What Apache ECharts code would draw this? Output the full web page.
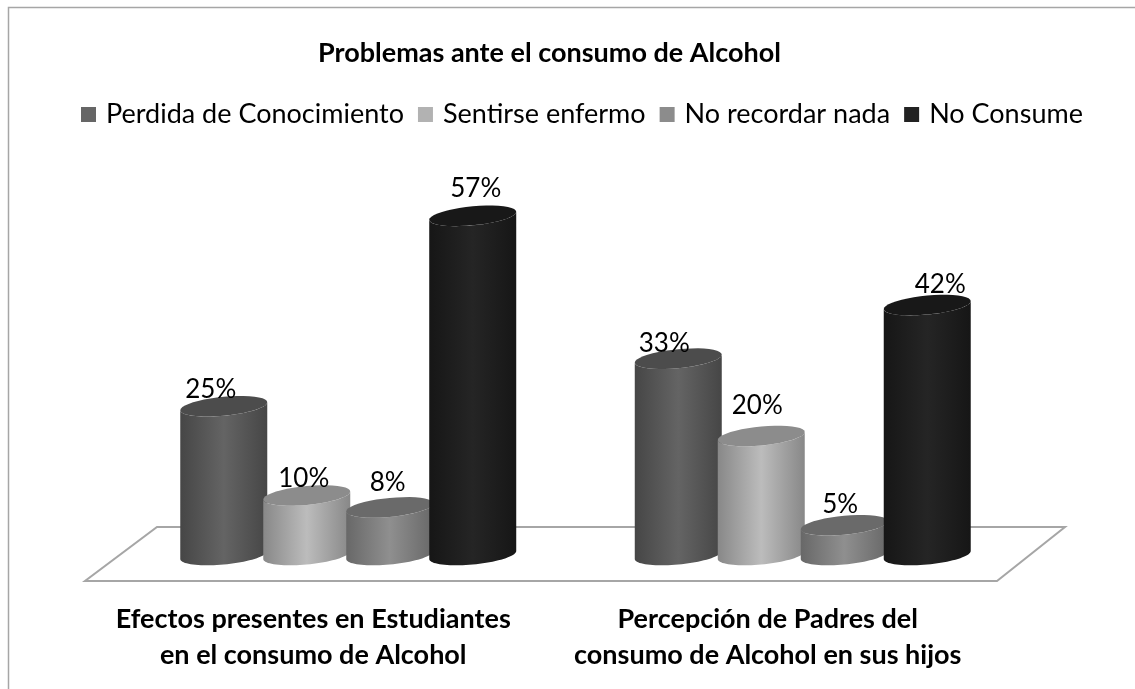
<!DOCTYPE html>
<html>
<head>
<meta charset="utf-8">
<style>
html, body { margin: 0; padding: 0; background: #fff; }
#chart { width: 1135px; height: 689px; }
</style>
<script src="https://cdn.jsdelivr.net/npm/echarts@6/dist/echarts.min.js"></script>
</head>
<body>
<div id="chart"></div>
<script>
const categories = ['Efectos presentes en Estudiantes\nen el consumo de Alcohol', 'Percepción de Padres del\nconsumo de Alcohol en sus hijos'];
const seriesNames = ['Perdida de Conocimiento', 'Sentirse enfermo', 'No recordar nada', 'No Consume'];
const perdida = [25, 33];
const enfermo = [10, 20];
const recordar = [8, 5];
const noConsume = [57, 42];
const seriesValues = [perdida, enfermo, recordar, noConsume];

const fontName = 'Lato';

// edge, middle, top cap, legend colour
const shades = [
    ['#464646', '#646464', '#4c4c4c', '#666666'],
    ['#888888', '#bcbcbc', '#8c8c8c', '#b2b2b2'],
    ['#686868', '#8f8f8f', '#6a6a6a', '#8c8c8c'],
    ['#161616', '#252525', '#181818', '#222222']
];

// the data labels in the picture sit off centre, [dx, dy] per series and category
const labelNudge = [
    [[-13, -17], [-14, -15]],
    [[-3, -17], [-4, -30]],
    [[-2, -25], [-4, -21]],
    [[3, -27], [13, -20]]
];

// points along the sheared ellipse that a cylinder end makes
function arc(cx, cy, a, b, k, from, to) {
    let pts = [];
    for (let i = 0; i <= 40; i++) {
        let t = from + (to - from) * i / 40;
        pts.push([cx + a * Math.cos(t), cy + b * Math.sin(t) - k * Math.cos(t)]);
    }
    return pts;
}

function cylinder(seriesIndex) {
    return function (params, api) {
        let cat = api.value(0);
        let top = api.coord([cat, api.value(1)]);
        let base = api.coord([cat, 0]);
        let band = api.size([1, 0])[0];
        let pitch = band * 0.1826;
        let a = band * 0.0957;
        let cx = top[0] + (seriesIndex - 1.5) * pitch;
        let s = shades[seriesIndex];
        // front half of the base, then back up the far side along the top
        let body = arc(cx, base[1], a, 9.5, 4, 0, Math.PI).concat(arc(cx, top[1], a, 9.5, 4, Math.PI, 0));
        let nudge = labelNudge[seriesIndex][cat];
        return {
            type: 'group',
            children: [
                {
                    type: 'polygon',
                    shape: { points: body },
                    style: {
                        fill: new echarts.graphic.LinearGradient(0, 0, 1, 0, [
                            { offset: 0, color: s[0] },
                            { offset: 0.5, color: s[1] },
                            { offset: 1, color: s[0] }
                        ])
                    }
                },
                {
                    type: 'polygon',
                    shape: { points: arc(cx, top[1], a, 9.5, 4, 0, Math.PI * 2) },
                    style: { fill: s[2] }
                },
                {
                    type: 'text',
                    z2: 10,
                    x: cx + nudge[0],
                    y: top[1] + nudge[1],
                    style: {
                        text: api.value(1) + '%',
                        font: '26px ' + fontName,
                        fill: '#000',
                        align: 'center',
                        verticalAlign: 'middle'
                    }
                }
            ]
        };
    };
}

// floor plate under the cylinders, hung off the grid rectangle
function floor(params, api) {
    let g = params.coordSys;
    let y0 = g.y + g.height;
    return {
        type: 'polygon',
        shape: {
            points: [
                [g.x - 36, y0 + 26],
                [g.x + g.width - 33, y0 + 26],
                [g.x + g.width + 35, y0 - 28],
                [g.x + 36, y0 - 28]
            ]
        },
        style: { fill: '#fff', stroke: '#a6a6a6', lineWidth: 2 }
    };
}

let chart = echarts.init(document.getElementById('chart'));

let series = [{
    type: 'custom',
    silent: true,
    renderItem: floor,
    data: [0],
    z: 1
}];
seriesNames.forEach(function (name, i) {
    series.push({
        name: name,
        type: 'custom',
        renderItem: cylinder(i),
        encode: { x: 0, y: 1 },
        itemStyle: { color: shades[i][3] },
        data: seriesValues[i].map(function (v, c) { return [c, v]; }),
        z: 2
    });
});

let option = {
    animation: false,
    backgroundColor: '#fff',
    title: {
        text: 'Problemas ante el consumo de Alcohol',
        left: 313,
        top: 35,
        textStyle: { fontFamily: fontName, fontSize: 27, fontWeight: 'bold', color: '#000' }
    },
    legend: {
        data: seriesNames,
        top: 96,
        left: 76,
        icon: 'rect',
        itemWidth: 15,
        itemHeight: 15,
        itemGap: 14,
        textStyle: { fontFamily: fontName, fontSize: 27, color: '#000', padding: [0, 0, 0, 5] }
    },
    grid: { left: 121, right: 105, top: 198, bottom: 134 },
    xAxis: {
        type: 'category',
        data: categories,
        axisLine: { show: false },
        axisTick: { show: false },
        axisLabel: {
            interval: 0,
            margin: 46,
            fontFamily: fontName,
            fontSize: 27,
            fontWeight: 'bold',
            lineHeight: 36,
            padding: [0, 70, 0, 0],
            color: '#000'
        }
    },
    yAxis: {
        type: 'value',
        min: 0,
        max: 60,
        show: false
    },
    series: series,
    graphic: [{
        type: 'polyline',
        silent: true,
        shape: { points: [[8.5, 689], [8.5, 7.5], [1135, 7.5]] },
        style: { fill: 'none', stroke: '#a6a6a6', lineWidth: 1.5 }
    }]
};

chart.setOption(option);
</script>
</body>
</html>
